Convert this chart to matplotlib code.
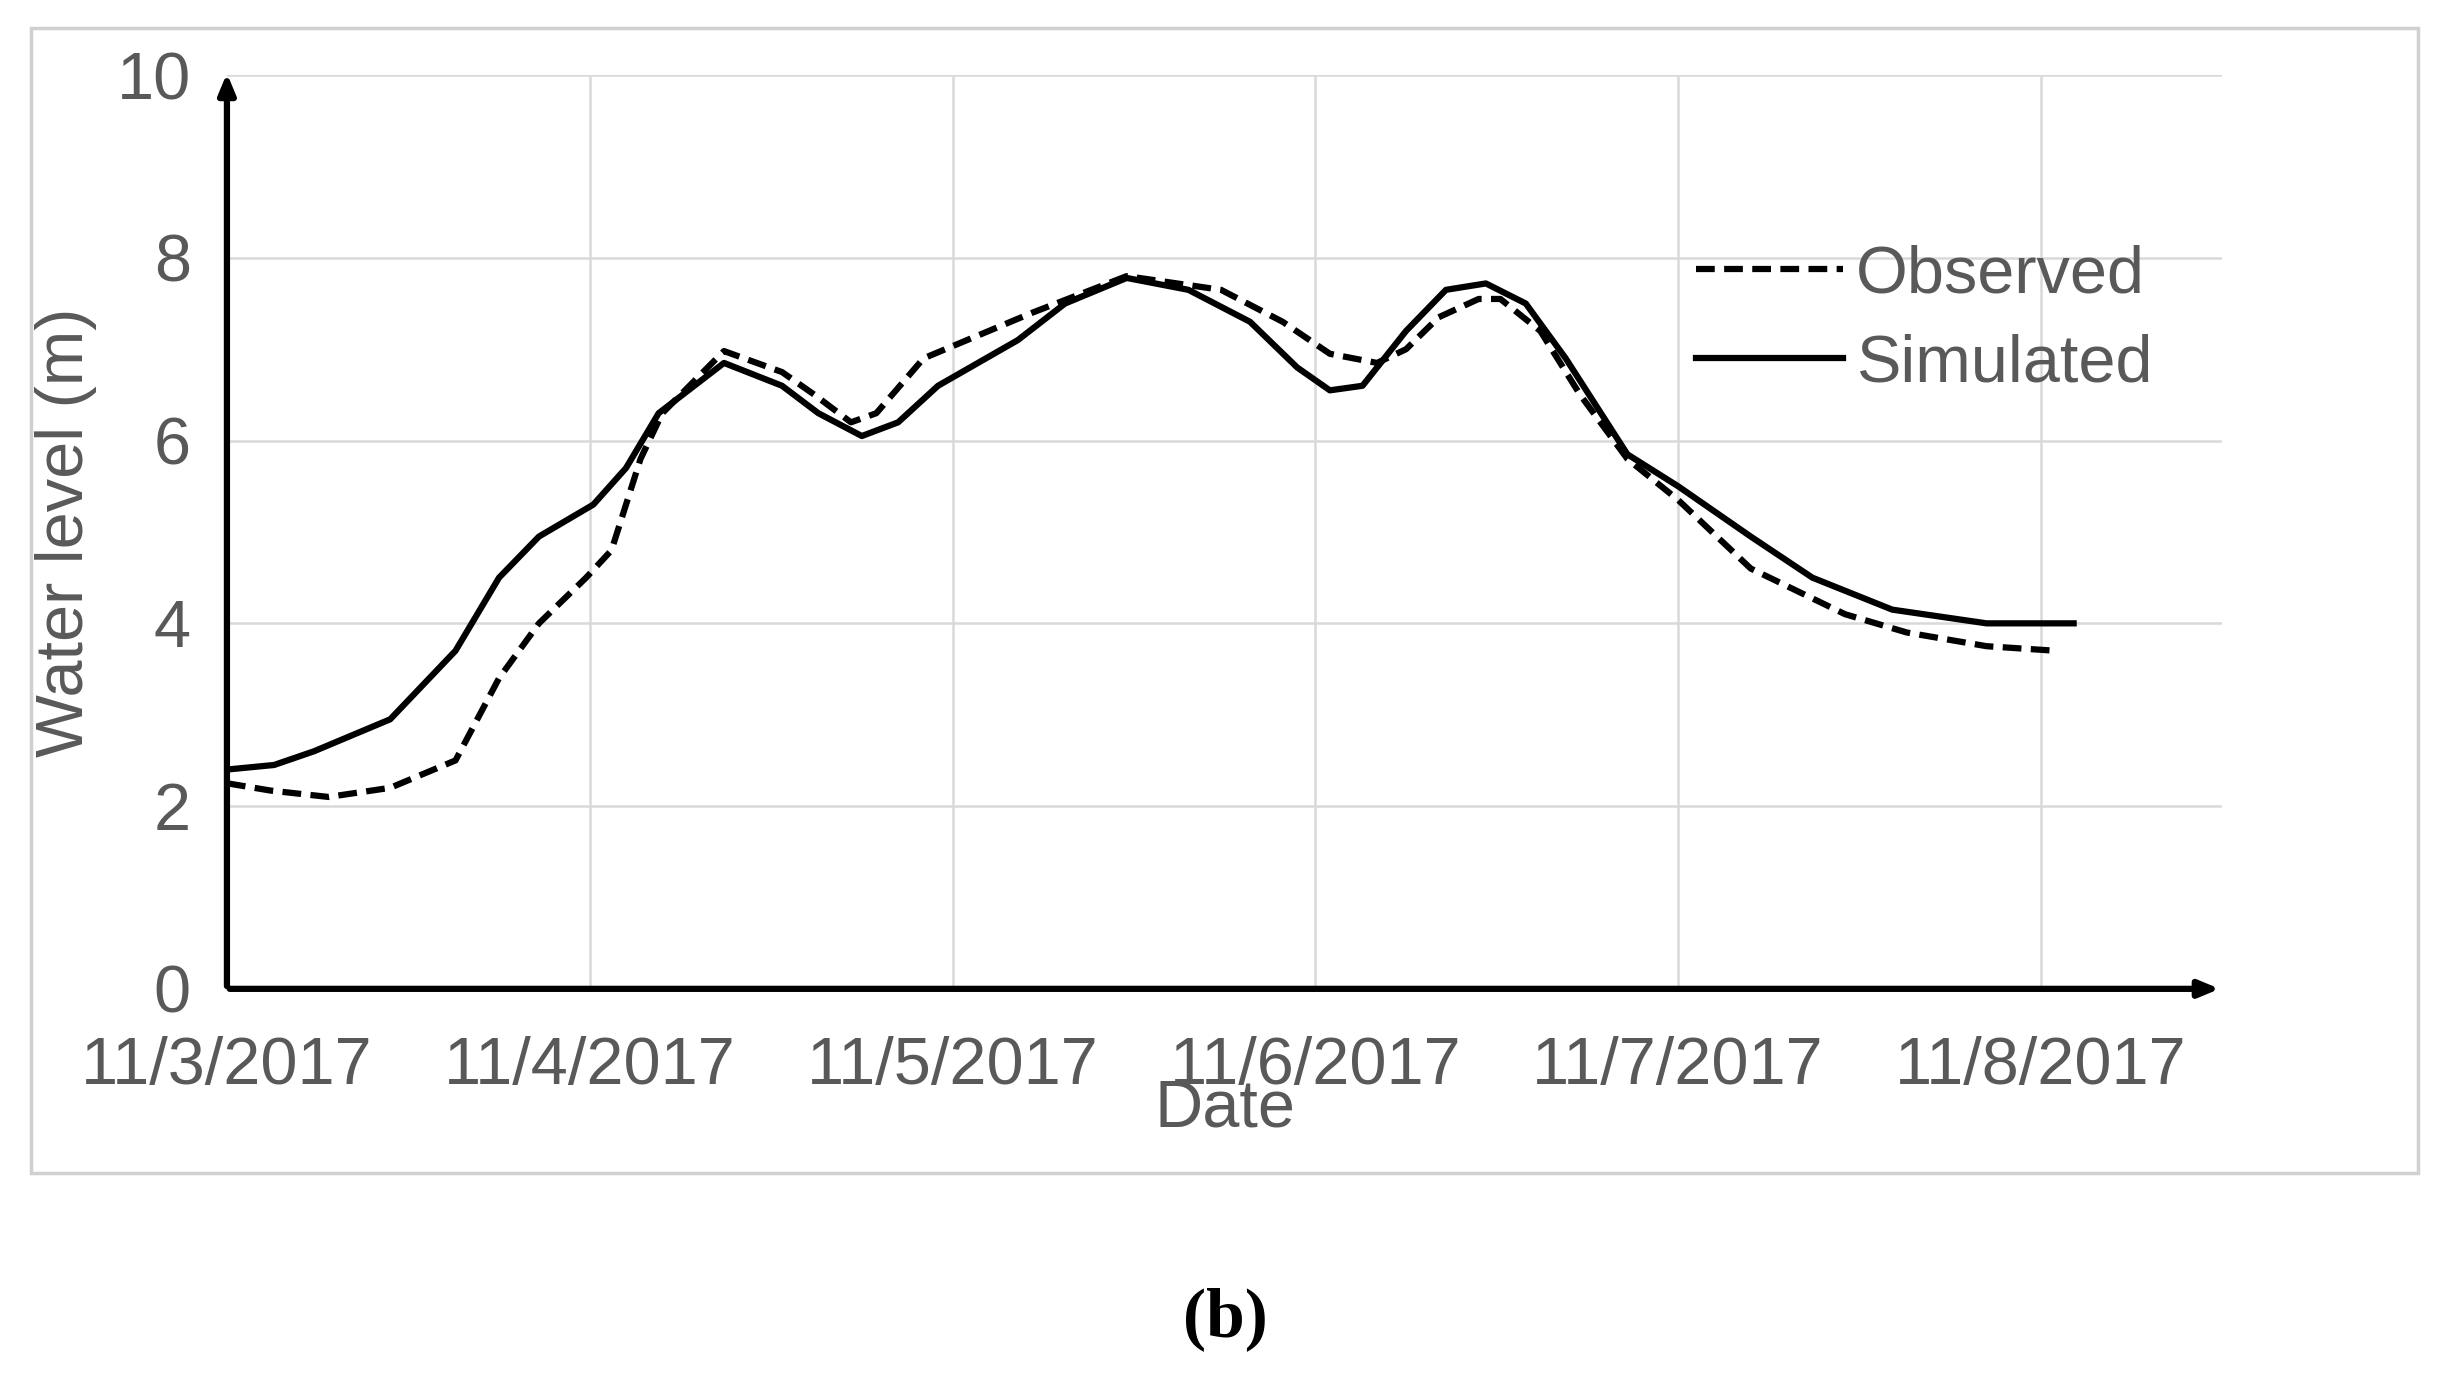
import matplotlib
matplotlib.use("Agg")
import matplotlib.pyplot as plt
from matplotlib.patches import Rectangle

obs_x = [0, 0.12, 0.28, 0.45, 0.63, 0.75, 0.86, 0.99, 1.06, 1.14, 1.2, 1.37, 1.53, 1.62, 1.72, 1.79, 1.92, 2.07, 2.22, 2.48, 2.74, 2.91, 3.04, 3.17, 3.25, 3.34, 3.45, 3.51, 3.62, 3.73, 3.86, 4.0, 4.2, 4.46, 4.63, 4.85, 5.04]
obs_y = [2.25, 2.17, 2.1, 2.2, 2.5, 3.4, 4.0, 4.5, 4.8, 5.8, 6.3, 6.98, 6.75, 6.5, 6.2, 6.3, 6.9, 7.15, 7.4, 7.8, 7.65, 7.3, 6.95, 6.85, 7.0, 7.35, 7.55, 7.55, 7.2, 6.5, 5.8, 5.35, 4.6, 4.1, 3.9, 3.75, 3.7]
sim_x = [0, 0.13, 0.24, 0.45, 0.63, 0.75, 0.86, 1.01, 1.1, 1.19, 1.37, 1.53, 1.63, 1.75, 1.85, 1.96, 2.18, 2.31, 2.48, 2.65, 2.82, 2.95, 3.04, 3.13, 3.25, 3.36, 3.47, 3.58, 3.69, 3.86, 4.0, 4.2, 4.37, 4.59, 4.85, 5.09]
sim_y = [2.4, 2.45, 2.6, 2.95, 3.7, 4.5, 4.95, 5.3, 5.7, 6.3, 6.85, 6.6, 6.3, 6.05, 6.2, 6.6, 7.1, 7.5, 7.78, 7.65, 7.3, 6.8, 6.55, 6.6, 7.2, 7.65, 7.72, 7.5, 6.9, 5.85, 5.5, 4.95, 4.5, 4.15, 4.0, 4.0]
dates = ["11/3/2017", "11/4/2017", "11/5/2017", "11/6/2017", "11/7/2017", "11/8/2017"]
yticks = [0, 2, 4, 6, 8, 10]

plt.rcParams['font.family'] = ['Liberation Sans', 'DejaVu Sans']
gray = "#595959"
fig = plt.figure(figsize=(24.54, 13.8), dpi=100)
fig.patches.append(Rectangle((20/1568, 1-750/882), 1525/1568, 732/882, transform=fig.transFigure,
                             fill=False, edgecolor="#d0d0d0", linewidth=2.5))
ax = fig.add_axes([145/1568, 1-632/882, 1275/1568, 584/882])
ax.set_xlim(0, 5.5)
ax.set_ylim(0, 10)
for s in ax.spines.values():
    s.set_visible(False)
for d in range(1, 6):
    ax.axvline(d, color="#d9d9d9", lw=1.8, zorder=0)
for y in yticks[1:]:
    ax.plot([0, 5.5], [y, y], color="#d9d9d9", lw=1.8, zorder=0)
ax.annotate("", xy=(5.5, 0), xytext=(0, 0), arrowprops=dict(arrowstyle="-|>,head_length=1.2,head_width=0.5", lw=4.5, color="black"), annotation_clip=False)
ax.annotate("", xy=(0, 10.05), xytext=(0, 0), arrowprops=dict(arrowstyle="-|>,head_length=1.2,head_width=0.5", lw=4.5, color="black"), annotation_clip=False)

ax.plot(obs_x, obs_y, "k--", lw=4.5, dashes=(3, 1.5), label="Observed")
ax.plot(sim_x, sim_y, "k-", lw=4.5, label="Simulated")

ax.set_xticks(range(6))
ax.set_xticklabels(dates)
ax.set_yticks(yticks)
ax.tick_params(length=0, labelsize=48, labelcolor=gray)
ax.tick_params(axis='x', pad=34)
ax.tick_params(axis='y', pad=26)
ax.set_xlabel("Date", fontsize=48, color=gray, labelpad=-14)
ax.set_ylabel("Water level (m)", fontsize=48, color=gray, labelpad=14)
ax.legend(loc="upper right", bbox_to_anchor=(0.995, 0.88), frameon=False, fontsize=48,
          labelcolor=gray, handlelength=2.2, handletextpad=0.2, labelspacing=0.4)
fig.text(783/1568, 1-843/882, "(b)", ha="center", va="center", fontsize=50, fontweight="bold", family="Liberation Serif")
fig.savefig("out.png", dpi=100)
